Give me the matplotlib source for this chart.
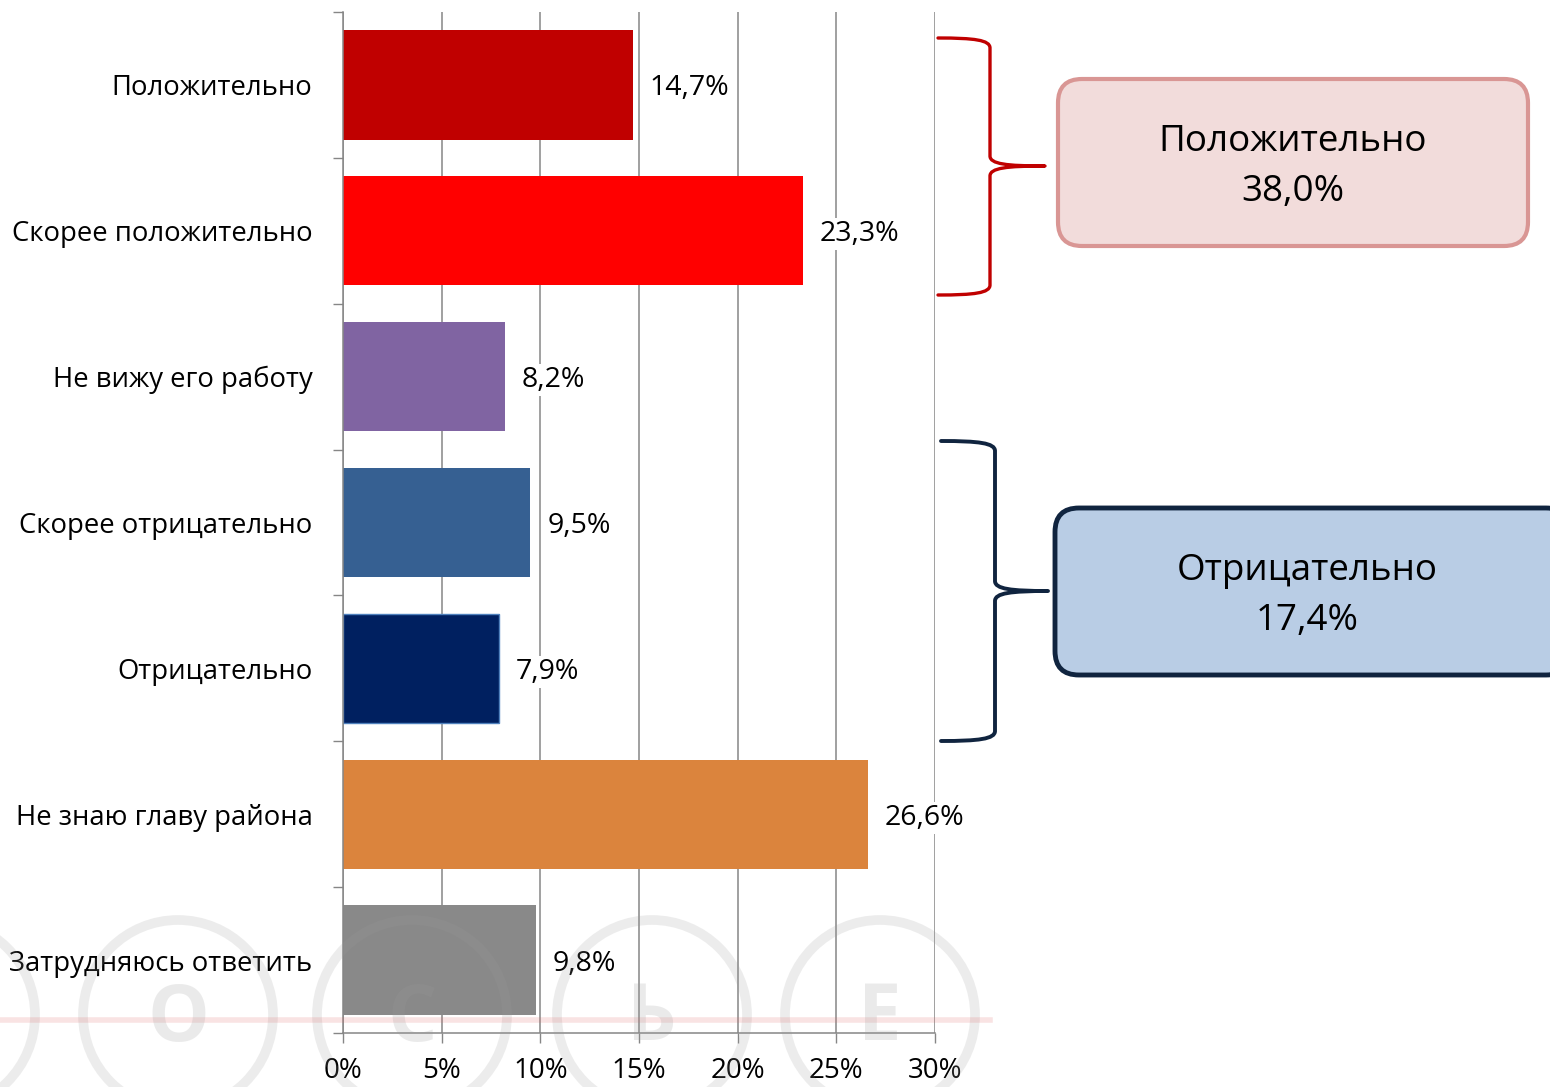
import matplotlib
matplotlib.use("Agg")
import matplotlib.pyplot as plt
from matplotlib.path import Path
from matplotlib.patches import PathPatch, FancyBboxPatch, Circle
import numpy as np

plt.rcParams['font.family'] = ['Open Sans', 'DejaVu Sans']

categories = ["Положительно", "Скорее положительно", "Не вижу его работу",
              "Скорее отрицательно", "Отрицательно", "Не знаю главу района",
              "Затрудняюсь ответить"]
values = [14.7, 23.3, 8.2, 9.5, 7.9, 26.6, 9.8]
bar_colors = ["#c00000", "#ff0000", "#8064a2", "#366092", "#002060", "#db843d", "#898989"]
xticks = [0, 5, 10, 15, 20, 25, 30]
group_labels = ["Положительно\n38,0%", "Отрицательно\n17,4%"]

W, H = 1550, 1087
fig = plt.figure(figsize=(W / 100, H / 100), dpi=100)
ax = fig.add_axes([343 / W, 1 - 1033 / H, (935 - 343) / W, (1033 - 12) / H])

y = np.arange(len(categories))
bars = ax.barh(y, values, height=0.75, color=bar_colors, zorder=2)
bars[4].set_edgecolor("#4f81bd")
bars[4].set_linewidth(1.0)

ax.set_xlim(0, 30)
ax.set_ylim(len(categories) - 0.5, -0.5)
ax.set_xticks(xticks)
ax.set_xticklabels([f"{t}%" for t in xticks], fontsize=20)
ax.set_yticks(y)
ax.set_yticklabels(categories, fontsize=19.8)
ax.set_yticks(np.arange(-0.5, len(categories)), minor=True)
ax.tick_params(axis='y', which='major', length=0, pad=22)
ax.tick_params(axis='y', which='minor', length=7, color="#868686", width=1)
ax.tick_params(axis='x', which='major', length=7, color="#868686", width=1, pad=10)
ax.grid(axis='x', color="#868686", linewidth=1.1, zorder=0)
ax.set_axisbelow(True)
for s in ['top', 'right']:
    ax.spines[s].set_visible(False)
for s in ['left', 'bottom']:
    ax.spines[s].set_color("#868686")
    ax.spines[s].set_linewidth(1.1)

for i, v in enumerate(values):
    ax.annotate(f"{v:.1f}%".replace('.', ','), xy=(v, i), xytext=(12, -2.5),
                textcoords='offset points', va='center', ha='left', fontsize=20.5,
                bbox=dict(fc='white', ec='none', pad=1.5), zorder=3)

# overlay for annotations (pixel coordinates)
ov = fig.add_axes([0, 0, 1, 1], zorder=5)
ov.set_xlim(0, W)
ov.set_ylim(H, 0)
ov.axis('off')
ov.patch.set_alpha(0)


def brace(x0, x1, xt, y0, y1, ym, color, lw):
    r = 10
    verts = [(x0, y0), (x0 + 0.7 * (x1 - x0), y0), (x1, y0 + 2), (x1, y0 + r),
             (x1, ym - r),
             (x1, ym - 2), (x1 + 0.3 * (xt - x1), ym), (xt, ym),
             (x1 + 0.3 * (xt - x1), ym), (x1, ym + 2), (x1, ym + r),
             (x1, y1 - r),
             (x1, y1 - 2), (x0 + 0.7 * (x1 - x0), y1), (x0, y1)]
    codes = [Path.MOVETO, Path.CURVE4, Path.CURVE4, Path.CURVE4,
             Path.LINETO,
             Path.CURVE4, Path.CURVE4, Path.CURVE4,
             Path.CURVE4, Path.CURVE4, Path.CURVE4,
             Path.LINETO,
             Path.CURVE4, Path.CURVE4, Path.CURVE4]
    ov.add_patch(PathPatch(Path(verts, codes), fill=False, edgecolor=color,
                           linewidth=lw, capstyle='round', joinstyle='round'))


brace(938, 990, 1045, 38, 295, 166, "#c00000", 2.4)
brace(941, 995, 1048, 441, 741, 591, "#10243f", 2.8)

b1 = FancyBboxPatch((1058, 79), 1528 - 1058, 246 - 79,
                    boxstyle="round,pad=0,rounding_size=24",
                    fc="#f2dcdb", ec="#d99694", lw=3.0)
ov.add_patch(b1)
ov.text((1058 + 1528) / 2, 167, group_labels[0], ha='center', va='center',
        fontsize=26.5, linespacing=1.55)

b2 = FancyBboxPatch((1055, 508), 1570 - 1055, 675 - 508,
                    boxstyle="round,pad=0,rounding_size=24",
                    fc="#b9cde5", ec="#10243f", lw=3.5)
ov.add_patch(b2)
ov.text(1307, 596, group_labels[1], ha='center', va='center',
        fontsize=26.5, linespacing=1.55)

# faint watermark
wm = fig.add_axes([0, 0, 1, 1], zorder=6)
wm.set_xlim(0, W)
wm.set_ylim(H, 0)
wm.axis('off')
wm.patch.set_alpha(0)
wm.plot([0, 990], [1020, 1020], color="#e06666", alpha=0.18, lw=4)
for cx, letter in [(-60, ""), (178, "О"), (412, "С"), (652, "Ь"), (880, "Е")]:
    wm.add_patch(Circle((cx, 1015), 95, fill=False, ec="#9a9a9a", lw=7, alpha=0.18))
    if letter:
        wm.text(cx, 1020, letter, ha='center', va='center', fontsize=56,
                fontweight='bold', color="#9a9a9a", alpha=0.2)

fig.savefig("out.png", dpi=100)
